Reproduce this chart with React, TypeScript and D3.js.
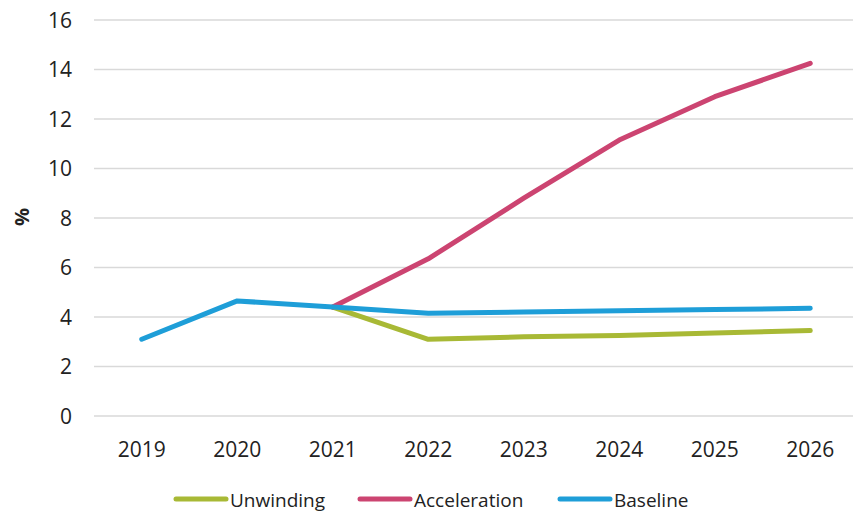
import React from "react";
import * as d3 from "d3";

const years = ["2019", "2020", "2021", "2022", "2023", "2024", "2025", "2026"];
const unwinding = [null, null, 4.4, 3.1, 3.2, 3.25, 3.35, 3.45];
const acceleration = [null, null, 4.4, 6.35, 8.8, 11.15, 12.9, 14.25];
const baseline = [3.1, 4.65, 4.4, 4.15, 4.2, 4.25, 4.3, 4.35];
const yTicks = [0, 2, 4, 6, 8, 10, 12, 14, 16];

const seriesNames = ["Unwinding", "Acceleration", "Baseline"];
const seriesColors = ["#A8B935", "#CC4471", "#1E9ED8"];
const seriesValues = [unwinding, acceleration, baseline];

const W = 853;
const H = 515;
const FONT = "'Open Sans', 'Liberation Sans', sans-serif";

export default function App() {
  const x = d3.scaleBand<string>().domain(years).range([94, 858]).padding(0);
  const y = d3.scaleLinear().domain([0, 16]).range([416, 20]);
  const cx = (yr: string) => (x(yr) ?? 0) + x.bandwidth() / 2;

  const line = d3
    .line<{ yr: string; v: number | null }>()
    .defined((d) => d.v != null)
    .x((d) => cx(d.yr))
    .y((d) => y(d.v as number));

  const legendX = [174, 358, 558];

  return (
    <svg
      width={W}
      height={H}
      style={{ position: "absolute", left: 0, top: 0, background: "#fff" }}
      fontFamily={FONT}
    >
      {yTicks.map((t) => (
        <g key={t}>
          <line x1={94} x2={858} y1={y(t)} y2={y(t)} stroke="#d9d9d9" strokeWidth={1.3} />
          <text x={72} y={y(t)} dy="0.36em" textAnchor="end" fontSize={21} fill="#222">
            {t}
          </text>
        </g>
      ))}
      {years.map((yr) => (
        <text key={yr} x={cx(yr)} y={457} textAnchor="middle" fontSize={21} fill="#222">
          {yr}
        </text>
      ))}
      <text
        transform={`translate(29,217) rotate(-90)`}
        textAnchor="middle"
        fontSize={20}
        fontWeight="bold"
        fill="#222"
      >
        %
      </text>
      {[0, 1, 2].map((i) => (
        <path
          key={seriesNames[i]}
          d={line(years.map((yr, j) => ({ yr, v: seriesValues[i][j] }))) || ""}
          fill="none"
          stroke={seriesColors[i]}
          strokeWidth={5}
          strokeLinecap="round"
          strokeLinejoin="round"
        />
      ))}
      {seriesNames.map((n, i) => (
        <g key={n}>
          <line
            x1={legendX[i] + 2}
            x2={legendX[i] + 52}
            y1={499}
            y2={499}
            stroke={seriesColors[i]}
            strokeWidth={5}
            strokeLinecap="round"
          />
          <text x={legendX[i] + 56} y={507} fontSize={19} fill="#222">
            {n}
          </text>
        </g>
      ))}
    </svg>
  );
}
